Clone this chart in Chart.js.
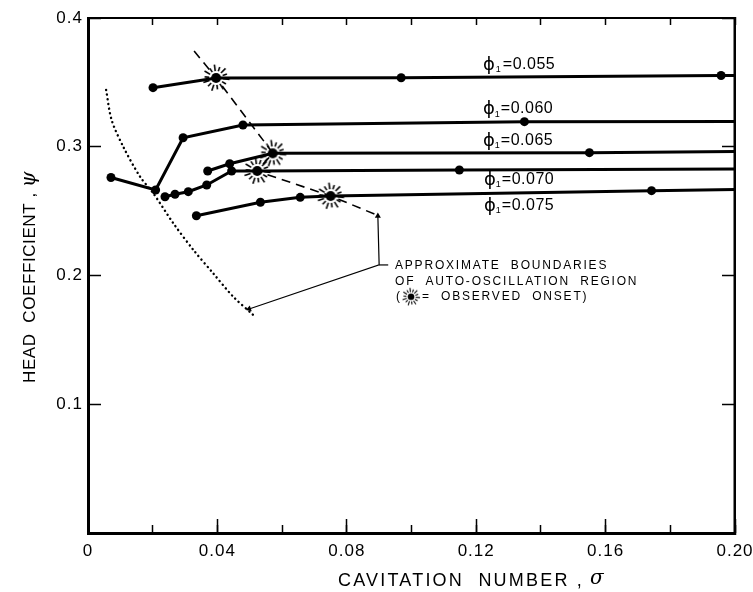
<!DOCTYPE html>
<html>
<head>
<meta charset="utf-8">
<script src="https://cdn.jsdelivr.net/npm/chart.js@4.4.0/dist/chart.umd.min.js"></script>
<style>
html, body { margin: 0; padding: 0; background: #fff; }
#c { display: block; }
</style>
</head>
<body>
<canvas id="c" width="753" height="592"></canvas>
<script>
// head coefficient vs cavitation number, one curve per flow coefficient phi1
// (last point of each curve = where the line runs into the frame)
const phi055_sigma = [0.0201, 0.0396, 0.0968, 0.1957, 0.2];
const phi055_psi   = [0.3459, 0.3534, 0.3536, 0.3553, 0.3553];
const phi060_sigma = [0.0071, 0.0209, 0.0294, 0.0479, 0.1349, 0.2];
const phi060_psi   = [0.2761, 0.2664, 0.3070, 0.3169, 0.3195, 0.3196];
const phi065_sigma = [0.0370, 0.0438, 0.0571, 0.1550, 0.2];
const phi065_psi   = [0.2812, 0.2868, 0.2949, 0.2954, 0.2963];
const phi070_sigma = [0.0238, 0.0269, 0.0310, 0.0367, 0.0444, 0.0523, 0.1148, 0.2];
const phi070_psi   = [0.2612, 0.2631, 0.2651, 0.2703, 0.2812, 0.2812, 0.2819, 0.2827];
const phi075_sigma = [0.0335, 0.0533, 0.0656, 0.0750, 0.1742, 0.2];
const phi075_psi   = [0.2464, 0.2569, 0.2607, 0.2617, 0.2659, 0.2668];
// which point of each curve is the observed onset (-1 = none)
const onsetIndex = [1, -1, 2, 5, 3];

const phiLabels = ['0.055', '0.060', '0.065', '0.070', '0.075'];
const phiLabelSigma = [0.1221, 0.1221, 0.1221, 0.1224, 0.1224];
const phiLabelPsi = [0.3635, 0.3293, 0.3045, 0.2742, 0.2540];

// auto-oscillation boundaries
const dashSigma = [0.0328, 0.0396, 0.0572, 0.0521, 0.0751, 0.0896];
const dashPsi   = [0.3744, 0.3534, 0.2949, 0.2812, 0.2617, 0.2466];
const dotSigma = [0.0056, 0.0073, 0.0109, 0.0161, 0.0202, 0.0264, 0.0326, 0.0387, 0.0449, 0.0511];
const dotPsi   = [0.3441, 0.3208, 0.3000, 0.2767, 0.2638, 0.2405, 0.2198, 0.2017, 0.1835, 0.1693];

// leader lines of the note
const arrowSigma = [0.0498, 0.0900, 0.0896];
const arrowPsi   = [0.1740, 0.2082, 0.2462];
const leaderSigma = [0.0900, 0.0928];
const leaderPsi   = [0.2082, 0.2082];
const noteSigma = 0.0949;
const notePsi = [0.2076, 0.1952, 0.1835];

const xTicksMajor = [0, 0.04, 0.08, 0.12, 0.16, 0.20];
const yTicks = [0.1, 0.2, 0.3, 0.4];

const FONT = '"Liberation Sans", Arial, sans-serif';

// starburst marker for observed onset
function makeStar(size) {
    const c = document.createElement('canvas');
    c.width = c.height = size;
    const g = c.getContext('2d');
    const k = size / 30;
    g.translate(size / 2, size / 2);
    g.fillStyle = '#000';
    g.beginPath();
    g.arc(0, 0, 5 * k, 0, 2 * Math.PI);
    g.fill();
    g.strokeStyle = '#000';
    g.lineWidth = 1.6 * k;
    for (let i = 0; i < 14; i++) {
        const a = i * 2 * Math.PI / 14 + 0.1;
        const r1 = 7 * k, r2 = (i % 2 ? 11.5 : 13.5) * k;
        g.beginPath();
        g.moveTo(Math.cos(a) * r1, Math.sin(a) * r1);
        g.lineTo(Math.cos(a) * r2, Math.sin(a) * r2);
        g.stroke();
    }
    return c;
}
const star = makeStar(30);
const smallStar = makeStar(20);

function pts(sx, sy) {
    return sx.map((s, i) => ({x: s, y: sy[i]}));
}

function curve(label, sx, sy, onset) {
    const n = sx.length;
    return {
        label: label,
        data: pts(sx, sy),
        borderColor: '#000',
        backgroundColor: '#000',
        borderWidth: 3,
        tension: 0,
        pointStyle: sx.map((s, i) => i === onset ? star : 'circle'),
        pointRadius: sx.map((s, i) => i === n - 1 ? 0 : 4.5),
        pointBorderWidth: 0,
    };
}

function spaced(ctx, text, x, y, spacing) {
    ctx.letterSpacing = spacing + 'px';
    ctx.fillText(text, x, y);
    ctx.letterSpacing = '0px';
}

const textPlugin = {
    id: 'texts',
    beforeDraw(chart) {
        chart.ctx.setLineDash([]);
        chart.ctx.letterSpacing = '1px';
    },
    afterDraw(chart) {
        const ctx = chart.ctx;
        const xs = chart.scales.x, ys = chart.scales.y;
        const a = chart.chartArea;
        ctx.save();

        // right side of the frame
        ctx.setLineDash([]);
        ctx.strokeStyle = '#000';
        ctx.lineWidth = 2;
        ctx.beginPath();
        ctx.moveTo(a.right - 0.5, a.top - 1);
        ctx.lineTo(a.right - 0.5, a.bottom + 1);
        ctx.stroke();

        ctx.fillStyle = '#000';
        ctx.textBaseline = 'middle';
        ctx.textAlign = 'left';

        // phi1 labels
        phiLabels.forEach((v, i) => {
            let x = xs.getPixelForValue(phiLabelSigma[i]);
            const y = ys.getPixelForValue(phiLabelPsi[i]);
            ctx.font = '18px "DejaVu Sans", sans-serif';
            ctx.fillText('ϕ', x, y);
            x += ctx.measureText('ϕ').width;
            ctx.font = '9px ' + FONT;
            ctx.fillText('1', x, y + 5);
            x += ctx.measureText('1').width + 1;
            ctx.font = '16px ' + FONT;
            spaced(ctx, '=' + v, x, y, 0.5);
        });

        // note
        const nx = xs.getPixelForValue(noteSigma);
        ctx.font = '12px ' + FONT;
        spaced(ctx, 'APPROXIMATE  BOUNDARIES', nx, ys.getPixelForValue(notePsi[0]), 1.8);
        spaced(ctx, 'OF  AUTO-OSCILLATION  REGION', nx, ys.getPixelForValue(notePsi[1]), 1.8);
        const y3 = ys.getPixelForValue(notePsi[2]);
        ctx.fillText('(', nx + 1, y3);
        ctx.drawImage(smallStar, nx + 6, y3 - 10);
        spaced(ctx, '=  OBSERVED  ONSET)', nx + 27, y3, 1.8);

        // axis titles
        ctx.font = '18px ' + FONT;
        const tx = a.left + 250, ty = a.bottom + 48;
        spaced(ctx, 'CAVITATION  NUMBER ,', tx, ty, 2.2);
        ctx.letterSpacing = '2.2px';
        const w = ctx.measureText('CAVITATION  NUMBER ,').width;
        ctx.letterSpacing = '0px';
        ctx.font = 'italic 20px "DejaVu Serif", serif';
        ctx.fillText('σ', tx + w + 6, ty - 2);

        ctx.translate(30, a.top + 365);
        ctx.rotate(-Math.PI / 2);
        ctx.font = '17px ' + FONT;
        spaced(ctx, 'HEAD  COEFFICIENT ,', 0, 0, 0.6);
        ctx.letterSpacing = '0.6px';
        const w2 = ctx.measureText('HEAD  COEFFICIENT ,').width;
        ctx.letterSpacing = '0px';
        ctx.font = 'italic 20px "DejaVu Serif", serif';
        ctx.fillText('ψ', w2 + 5, 0);
        ctx.restore();
    }
};

const tickGrid = (len) => ({
    display: true,
    drawOnChartArea: false,
    drawTicks: true,
    tickLength: -len,
    tickColor: '#000',
    tickWidth: 1.5,
});

// keep the frame where the reference has it: no extra room for tick label overhang
const noOverhangX = (h) => (s) => { s.height = h; s.paddingLeft = 0; s.paddingRight = 0; };
const noOverhangY = (w) => (s) => { s.width = w; s.paddingTop = 0; s.paddingBottom = 0; };

new Chart(document.getElementById('c'), {
    type: 'line',
    data: {
        datasets: [
            curve('phi1=0.055', phi055_sigma, phi055_psi, onsetIndex[0]),
            curve('phi1=0.060', phi060_sigma, phi060_psi, onsetIndex[1]),
            curve('phi1=0.065', phi065_sigma, phi065_psi, onsetIndex[2]),
            curve('phi1=0.070', phi070_sigma, phi070_psi, onsetIndex[3]),
            curve('phi1=0.075', phi075_sigma, phi075_psi, onsetIndex[4]),
            {
                label: 'boundary (onset)',
                data: pts(dashSigma, dashPsi),
                borderColor: '#000', borderWidth: 1.6, borderDash: [9, 6],
                pointRadius: 0, tension: 0,
            },
            {
                label: 'boundary (lower)',
                data: pts(dotSigma, dotPsi),
                borderColor: '#000', borderWidth: 2.4, borderDash: [0.1, 4.6],
                borderCapStyle: 'round', pointRadius: 0, tension: 0.3,
            },
            {
                label: 'arrows',
                data: pts(arrowSigma, arrowPsi),
                borderColor: '#000', backgroundColor: '#000', borderWidth: 1.2,
                pointStyle: 'triangle', pointRadius: [3.5, 0, 3.5],
                pointRotation: [251, 0, 0], pointBorderWidth: 0, tension: 0,
            },
            {
                label: 'leader',
                data: pts(leaderSigma, leaderPsi),
                borderColor: '#000', borderWidth: 1.2, pointRadius: 0,
            },
        ]
    },
    options: {
        responsive: false,
        animation: false,
        layout: { padding: { top: 18, right: 18, left: 0, bottom: 0 } },
        plugins: { legend: { display: false }, tooltip: { enabled: false } },
        scales: {
            x: {
                type: 'linear', position: 'bottom', min: 0, max: 0.2, weight: 1,
                afterBuildTicks: (s) => { s.ticks = xTicksMajor.map(v => ({value: v})); },
                afterFit: noOverhangX(59),
                grid: tickGrid(14),
                border: { display: true, color: '#000', width: 3 },
                ticks: {
                    color: '#000', padding: 22, maxRotation: 0, autoSkip: false,
                    font: { family: FONT, size: 17 },
                    callback: (v) => v === 0 ? '0' : v.toFixed(2),
                },
            },
            xMinor: {
                type: 'linear', position: 'bottom', min: 0, max: 0.2, weight: 0,
                afterFit: noOverhangX(0),
                grid: tickGrid(8),
                border: { display: false },
                ticks: { stepSize: 0.02, autoSkip: false, callback: () => '' },
            },
            xTop: {
                type: 'linear', position: 'top', min: 0, max: 0.2,
                afterFit: noOverhangX(0),
                grid: tickGrid(7),
                border: { display: true, color: '#000', width: 2 },
                ticks: { stepSize: 0.02, autoSkip: false, callback: () => '' },
            },
            y: {
                type: 'linear', position: 'left', min: 0, max: 0.4,
                afterBuildTicks: (s) => { s.ticks = yTicks.map(v => ({value: v})); },
                afterFit: noOverhangY(88),
                grid: tickGrid(13),
                border: { display: true, color: '#000', width: 3 },
                ticks: {
                    color: '#000', padding: 18,
                    font: { family: FONT, size: 17 },
                    callback: (v) => v.toFixed(1),
                },
            },
            yRight: {
                type: 'linear', position: 'right', min: 0, max: 0.4,
                afterFit: noOverhangY(0),
                grid: tickGrid(13),
                border: { display: true, color: '#000', width: 2 },
                ticks: { stepSize: 0.1, callback: () => '' },
            },
        }
    },
    plugins: [textPlugin]
});
</script>
</body>
</html>
